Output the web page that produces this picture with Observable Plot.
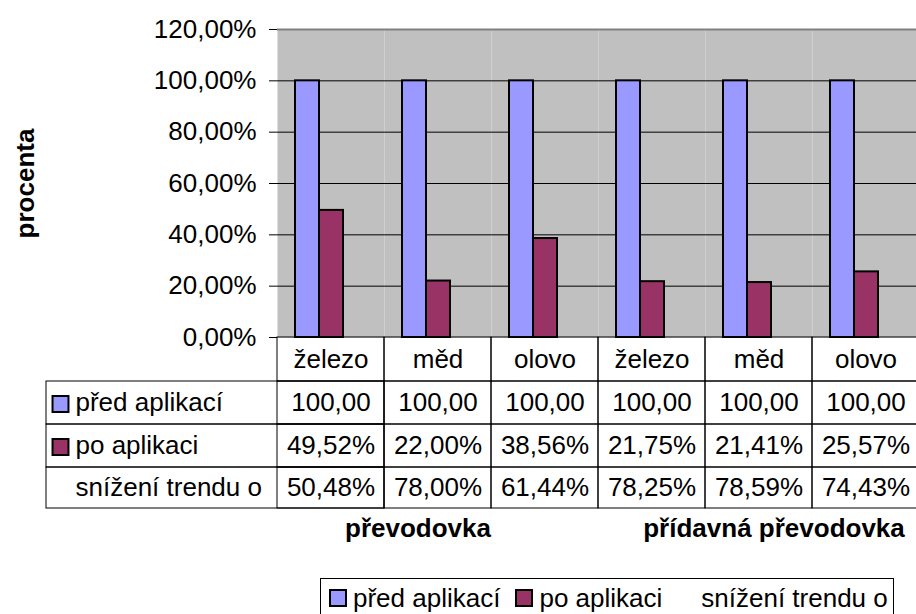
<!DOCTYPE html>
<html>
<head>
<meta charset="utf-8">
<script src="https://cdn.jsdelivr.net/npm/d3@7"></script>
<script src="https://cdn.jsdelivr.net/npm/@observablehq/plot@0.6"></script>
<style>
html, body { margin: 0; padding: 0; overflow: hidden; background: #fff; }
#chart svg { display: block; max-width: none; }
#legend {
  margin-left: 320px; width: 574px; height: 40px; box-sizing: border-box;
  border: 1px solid #000; display: flex; align-items: center; padding-left: 8px;
  font: 26px Arial, "Liberation Sans", sans-serif; color: #000; white-space: nowrap;
}
#legend .item { display: flex; align-items: center; margin-right: 15px; }
#legend .key { flex: 0 0 auto; display: block; box-sizing: border-box; width: 18px; height: 18px; border: 2px solid #000; margin-right: 6px; }
#legend .key.blank { border-color: transparent; }
</style>
</head>
<body>
<div id="chart"></div>
<div id="legend"></div>
<script>
// ---- data ----
const categories = ["železo", "měd", "olovo", "železo", "měd", "olovo"];
const groups = ["převodovka", "přídavná převodovka"];
const groupCol = [1, 4];
const seriesNames = ["před aplikací", "po aplikaci", "snížení trendu o"];
const predAplikaci = [100, 100, 100, 100, 100, 100];
const poAplikaci = [49.52, 22.00, 38.56, 21.75, 21.41, 25.57];
const snizeniTrendu = [50.48, 78.00, 61.44, 78.25, 78.59, 74.43];
const yTicks = [0, 20, 40, 60, 80, 100, 120];
const colors = ["#9999FF", "#993366", "none"];
const axisTitle = "procenta";

// ---- derived ----
const cols = d3.range(categories.length);
const bars = cols.flatMap(i => [
  {col: i, series: seriesNames[0], value: predAplikaci[i]},
  {col: i, series: seriesNames[1], value: poAplikaci[i]}
]);
const fmt = v => v.toFixed(2).replace(".", ",");

// table layout (pixels below the category axis)
const rowEdges = [0, 44, 87, 130, 171];
const plotH = 308;
const labelW = 231;
const rowMid = r => (rowEdges[r] + rowEdges[r + 1]) / 2;
const rowTexts = [
  i => categories[i],
  i => fmt(predAplikaci[i]),
  i => fmt(poAplikaci[i]) + "%",
  i => fmt(snizeniTrendu[i]) + "%"
];
const groupDx = [-20, 15];

const marks = [
  Plot.frame({fill: "#C0C0C0"}),
  Plot.ruleY(yTicks.slice(1, -1), {stroke: "#000", strokeWidth: 1}),
  Plot.ruleY([yTicks[yTicks.length - 1]], {stroke: "#808080", strokeWidth: 2}),
  Plot.barY(bars, {fx: "col", x: "series", y: "value", fill: "series", stroke: "#000", strokeWidth: 2, inset: 0}),
  Plot.axisY({ticks: yTicks, tickFormat: d => fmt(d) + "%", tickSize: 8, tickPadding: 13, line: true, label: null}),
  // table cells
  ...rowEdges.slice(0, -1).map((e, r) => Plot.rect(cols, {
    fx: d => d, insetTop: plotH + e, insetBottom: -rowEdges[r + 1], stroke: "#000", fill: "none"
  })),
  ...[1, 2, 3].map(r => Plot.rect([0], {
    fx: d => d, insetLeft: -labelW, insetTop: plotH + rowEdges[r], insetBottom: -rowEdges[r + 1], stroke: "#000", fill: "none"
  })),
  ...rowTexts.map((f, r) => Plot.text(cols, {
    fx: d => d, text: f, frameAnchor: "bottom", textAnchor: "middle", lineAnchor: "middle", dy: rowMid(r)
  })),
  ...seriesNames.map((s, k) => Plot.text([s], {
    fx: () => 0, text: d => d, frameAnchor: "bottom-left", textAnchor: "start", lineAnchor: "middle", dx: -202, dy: rowMid(k + 1)
  })),
  ...seriesNames.slice(0, 2).map((s, k) => Plot.dot([s], {
    fx: () => 0, frameAnchor: "bottom-left", dx: -217, dy: rowMid(k + 1) + 1,
    symbol: "square", r: 9, fill: colors[k], stroke: "#000", strokeWidth: 2
  })),
  Plot.text([axisTitle], {
    fx: () => 0, text: d => d, frameAnchor: "left", textAnchor: "middle", lineAnchor: "middle",
    dx: -252, rotate: -90, fontWeight: "bold"
  }),
  ...groups.map((g, k) => Plot.text([g], {
    fx: () => groupCol[k], text: d => d, frameAnchor: "bottom", textAnchor: "middle", lineAnchor: "middle",
    dy: 191, dx: groupDx[k], fontWeight: "bold"
  }))
];

const chart = Plot.plot({
  width: 916, height: 578,
  marginTop: 29, marginLeft: 277, marginRight: -3, marginBottom: 241,
  style: {fontFamily: "Arial, 'Liberation Sans', sans-serif", fontSize: "26px", color: "#000", background: "#fff", overflow: "hidden"},
  fx: {domain: cols, padding: 0, axis: null},
  x: {domain: seriesNames, paddingInner: 0, paddingOuter: 0.7, axis: null},
  y: {domain: [0, 120], label: null},
  color: {domain: seriesNames, range: colors},
  marks
});
document.getElementById("chart").appendChild(chart);

// legend
const legend = d3.select("#legend");
seriesNames.forEach((s, k) => {
  const item = legend.append("span").attr("class", "item");
  item.append("span").attr("class", colors[k] === "none" ? "key blank" : "key")
    .style("background", colors[k] === "none" ? "transparent" : colors[k]);
  item.append("span").text(s);
});
</script>
</body>
</html>
